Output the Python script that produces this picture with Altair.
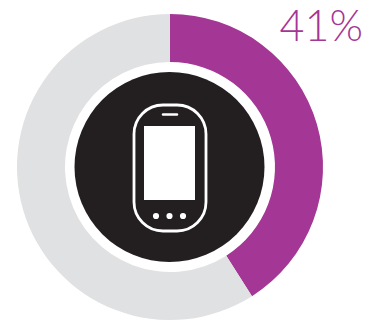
import altair as alt
import pandas as pd

segments = ["share", "rest"]
shares = [41, 59]
segment_colors = ["#A43695", "#E0E1E3"]
label = "41%"

CX, CY = 170, 167
ring = pd.DataFrame({"segment": segments, "value": shares, "rank": [0, 1]})

donut = alt.Chart(ring).mark_arc(outerRadius=153, innerRadius=105).encode(
    theta=alt.Theta("value:Q", stack=True, scale=alt.Scale(domain=[0, 100], range=[0, 6.28318530718])),
    order=alt.Order("rank:Q"),
    color=alt.Color("segment:N", scale=alt.Scale(domain=segments, range=segment_colors), legend=None),
    x=alt.value(CX),
    y=alt.value(CY),
)

blank = pd.DataFrame({"k": [0]})
base = alt.Chart(blank)

disc = base.mark_arc(outerRadius=95, innerRadius=0, color="#231F20", theta=0, theta2=6.28318530718).encode(
    x=alt.value(169.5), y=alt.value(CY)
)

# Handset icon in the middle of the disc
body = base.mark_rect(fillOpacity=0, stroke="white", strokeWidth=2.8, cornerRadius=29).encode(
    x=alt.value(134), x2=alt.value(206), y=alt.value(105), y2=alt.value(231)
)
screen = base.mark_rect(color="white").encode(
    x=alt.value(144), x2=alt.value(195), y=alt.value(126), y2=alt.value(200)
)
earpiece = base.mark_rule(color="white", strokeWidth=2.4, strokeCap="round").encode(
    x=alt.value(163), x2=alt.value(177), y=alt.value(114.5)
)
buttons = [
    base.mark_circle(color="white", opacity=1, size=38).encode(x=alt.value(px), y=alt.value(216))
    for px in (156, 169.5, 183)
]

caption = base.mark_text(
    text=label, font="Lato", fontWeight=300, fontSize=43, color="#A43695", align="right", baseline="alphabetic"
).encode(x=alt.value(363), y=alt.value(41))

chart = alt.layer(donut, disc, body, screen, earpiece, *buttons, caption).properties(
    width=378, height=324, padding=0, autosize=alt.AutoSizeParams(type="none"), background="white"
).configure_view(stroke=None)

chart.save("out.html", embed_options={"renderer": "svg", "actions": False})
